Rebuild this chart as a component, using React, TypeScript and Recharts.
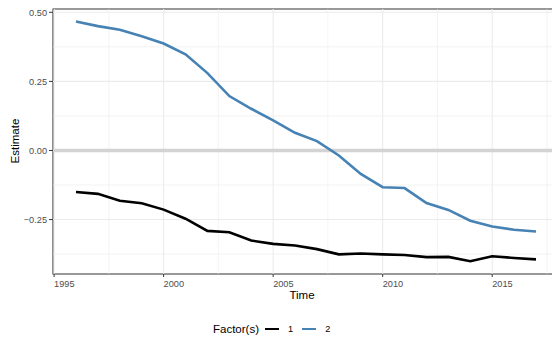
import React from "react";
import { LineChart, Line, XAxis, YAxis, ReferenceLine, ReferenceArea } from "recharts";

const years = [1996, 1997, 1998, 1999, 2000, 2001, 2002, 2003, 2004, 2005, 2006, 2007, 2008, 2009, 2010, 2011, 2012, 2013, 2014, 2015, 2016, 2017];
const factor1 = [-0.150, -0.157, -0.182, -0.191, -0.214, -0.247, -0.291, -0.296, -0.326, -0.338, -0.344, -0.357, -0.376, -0.373, -0.376, -0.378, -0.386, -0.385, -0.401, -0.383, -0.389, -0.394];
const factor2 = [0.467, 0.450, 0.437, 0.413, 0.387, 0.348, 0.280, 0.197, 0.151, 0.109, 0.064, 0.034, -0.018, -0.085, -0.133, -0.136, -0.190, -0.215, -0.254, -0.275, -0.287, -0.293];

const xTicks = [1995, 2000, 2005, 2010, 2015];
const xMinor = [1997.5, 2002.5, 2007.5, 2012.5, 2017.5];
const yTicks = [-0.25, 0, 0.25, 0.5];
const yTickLabels = ["\u22120.25", "0.00", "0.25", "0.50"];
const yMinor = [-0.375, -0.125, 0.125, 0.375];
const seriesNames = ["1", "2"];
const seriesColors = ["#000000", "#4682b4"];

const X_DOMAIN: [number, number] = [1994.95, 2018.05];
const Y_DOMAIN: [number, number] = [-0.447, 0.512];

const rows = years.map((y, i) => ({ year: y, f1: factor1[i], f2: factor2[i] }));

const FONT = "'Liberation Sans', Arial, Helvetica, sans-serif";

const XTick = (props: any) => {
  const { x, y, payload } = props;
  return (
    <text x={x} y={y} dy="0.71em" textAnchor="start" fontSize={9.2} fill="#4d4d4d" fontFamily={FONT}>
      {String(payload.value)}
    </text>
  );
};

const YTick = (props: any) => {
  const { x, y, payload } = props;
  const idx = yTicks.indexOf(payload.value);
  return (
    <text x={x} y={y} dy="0.355em" textAnchor="end" fontSize={9.2} fill="#4d4d4d" fontFamily={FONT}>
      {idx >= 0 ? yTickLabels[idx] : String(payload.value)}
    </text>
  );
};

export default function App() {
  return (
    <div style={{ position: "fixed", left: 0, top: 0, width: 552, height: 339, overflow: "hidden", background: "#fff", fontFamily: FONT }}>
      <LineChart width={570} height={339} data={rows} margin={{ top: 9, right: 11, bottom: 45, left: 8 }}>
        <XAxis
          type="number"
          dataKey="year"
          domain={X_DOMAIN}
          ticks={xTicks}
          allowDataOverflow
          axisLine={false}
          tickLine={{ stroke: "#333333" }}
          tickSize={3}
          tickMargin={3}
          height={20}
          tick={<XTick />}
        />
        <YAxis
          type="number"
          domain={Y_DOMAIN}
          ticks={yTicks}
          allowDataOverflow
          axisLine={false}
          tickLine={{ stroke: "#333333" }}
          tickSize={4}
          tickMargin={2}
          width={45}
          tick={<YTick />}
        />
        {yMinor.map((v) => (
          <ReferenceLine key={"ym" + v} y={v} stroke="#ebebeb" strokeWidth={0.6} />
        ))}
        {xMinor.map((v) => (
          <ReferenceLine key={"xm" + v} x={v} stroke="#ebebeb" strokeWidth={0.6} />
        ))}
        {yTicks.map((v) => (
          <ReferenceLine key={"yM" + v} y={v} stroke="#ebebeb" strokeWidth={1.1} />
        ))}
        {xTicks.map((v) => (
          <ReferenceLine key={"xM" + v} x={v} stroke="#ebebeb" strokeWidth={1.1} />
        ))}
        <ReferenceLine y={0} stroke="#d3d3d3" strokeWidth={3.5} />
        <ReferenceArea x1={X_DOMAIN[0]} x2={X_DOMAIN[1]} y1={Y_DOMAIN[0]} y2={Y_DOMAIN[1]} fill="none" stroke="#333333" strokeWidth={1.1} />
        <Line type="linear" dataKey="f1" stroke={seriesColors[0]} strokeWidth={2.6} dot={false} isAnimationActive={false} />
        <Line type="linear" dataKey="f2" stroke={seriesColors[1]} strokeWidth={2.6} dot={false} isAnimationActive={false} />
      </LineChart>
      <div style={{ position: "absolute", left: 302, top: 295, transform: "translate(-50%, -50%)", fontSize: 11.5, color: "#000", whiteSpace: "nowrap" }}>
        Time
      </div>
      <div style={{ position: "absolute", left: 15, top: 141, transform: "translate(-50%, -50%) rotate(-90deg)", fontSize: 11.5, color: "#000", whiteSpace: "nowrap" }}>
        Estimate
      </div>
      <div style={{ position: "absolute", left: 213, top: 329, transform: "translateY(-50%)", display: "flex", alignItems: "center", whiteSpace: "nowrap" }}>
        <span style={{ fontSize: 11.5, color: "#000", marginRight: 6 }}>Factor(s)</span>
        {seriesNames.map((n, i) => (
          <span key={n} style={{ display: "flex", alignItems: "center", marginRight: 9 }}>
            <span style={{ display: "inline-block", width: 14, height: 2.6, background: seriesColors[i], marginRight: 9 }} />
            <span style={{ fontSize: 9.2, color: "#000" }}>{n}</span>
          </span>
        ))}
      </div>
    </div>
  );
}
